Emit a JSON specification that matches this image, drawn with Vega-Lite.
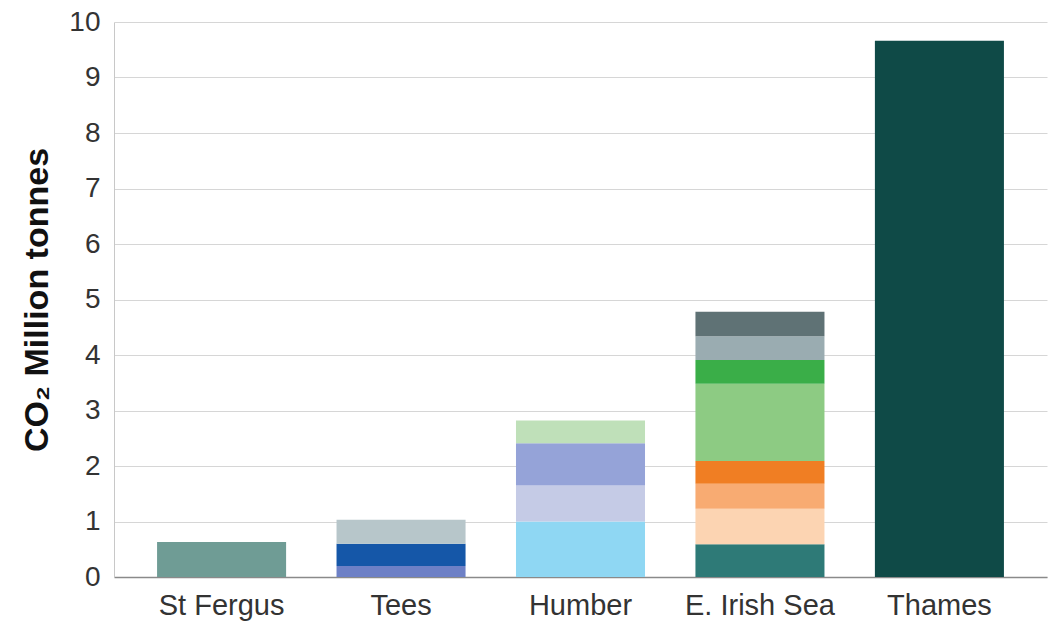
{
  "$schema": "https://vega.github.io/schema/vega-lite/v6.json",
  "autosize": "none",
  "width": 933,
  "height": 555,
  "padding": {"left": 114, "top": 22, "right": 3, "bottom": 47},
  "background": "white",
  "config": {
    "font": "Liberation Sans",
    "view": {"stroke": null}
  },
  "data": {
    "values": [
      {"site": "St Fergus", "segment": "SF1", "order": 1, "mt": 0.63},
      {"site": "Tees", "segment": "T1", "order": 1, "mt": 0.2},
      {"site": "Tees", "segment": "T2", "order": 2, "mt": 0.4},
      {"site": "Tees", "segment": "T3", "order": 3, "mt": 0.43},
      {"site": "Humber", "segment": "H1", "order": 1, "mt": 1.0},
      {"site": "Humber", "segment": "H2", "order": 2, "mt": 0.65},
      {"site": "Humber", "segment": "H3", "order": 3, "mt": 0.76},
      {"site": "Humber", "segment": "H4", "order": 4, "mt": 0.41},
      {"site": "E. Irish Sea", "segment": "E1", "order": 1, "mt": 0.59},
      {"site": "E. Irish Sea", "segment": "E2", "order": 2, "mt": 0.64},
      {"site": "E. Irish Sea", "segment": "E3", "order": 3, "mt": 0.45},
      {"site": "E. Irish Sea", "segment": "E4", "order": 4, "mt": 0.41},
      {"site": "E. Irish Sea", "segment": "E5", "order": 5, "mt": 1.39},
      {"site": "E. Irish Sea", "segment": "E6", "order": 6, "mt": 0.43},
      {"site": "E. Irish Sea", "segment": "E7", "order": 7, "mt": 0.43},
      {"site": "E. Irish Sea", "segment": "E8", "order": 8, "mt": 0.44},
      {"site": "Thames", "segment": "TH1", "order": 1, "mt": 9.66}
    ]
  },
  "mark": {"type": "bar"},
  "encoding": {
    "x": {
      "field": "site",
      "type": "nominal",
      "sort": ["St Fergus", "Tees", "Humber", "E. Irish Sea", "Thames"],
      "scale": {"paddingInner": 0.281, "paddingOuter": 0.24},
      "axis": {
        "title": null,
        "labelAngle": 0,
        "labelFontSize": 29,
        "labelColor": "#333333",
        "labelPadding": 14,
        "ticks": false,
        "domainColor": "#8a8a8a",
        "domainWidth": 1.5
      }
    },
    "y": {
      "field": "mt",
      "type": "quantitative",
      "aggregate": "sum",
      "stack": "zero",
      "scale": {"domain": [0, 10]},
      "axis": {
        "title": "CO₂ Million tonnes",
        "titleFontSize": 34,
        "titleFontWeight": "bold",
        "titleColor": "#111111",
        "titlePadding": 14,
        "values": [0, 1, 2, 3, 4, 5, 6, 7, 8, 9, 10],
        "labelFontSize": 28,
        "labelColor": "#333333",
        "labelPadding": 14,
        "ticks": false,
        "gridColor": "#d6d6d6",
        "gridWidth": 1,
        "domainColor": "#c8c8c8"
      }
    },
    "color": {
      "field": "segment",
      "type": "nominal",
      "legend": null,
      "scale": {
        "domain": ["SF1", "T1", "T2", "T3", "H1", "H2", "H3", "H4", "E1", "E2", "E3", "E4", "E5", "E6", "E7", "E8", "TH1"],
        "range": ["#6f9c95", "#6d80c6", "#1557a8", "#b7c6ca", "#8fd7f3", "#c5cbe6", "#95a3d8", "#bfe0b9", "#2e7a77", "#fcd4b2", "#f8ab72", "#f07e23", "#8dcb83", "#3aae48", "#9aacb1", "#5f7275", "#0f4a47"]
      }
    },
    "order": {"field": "order", "type": "quantitative"}
  }
}
